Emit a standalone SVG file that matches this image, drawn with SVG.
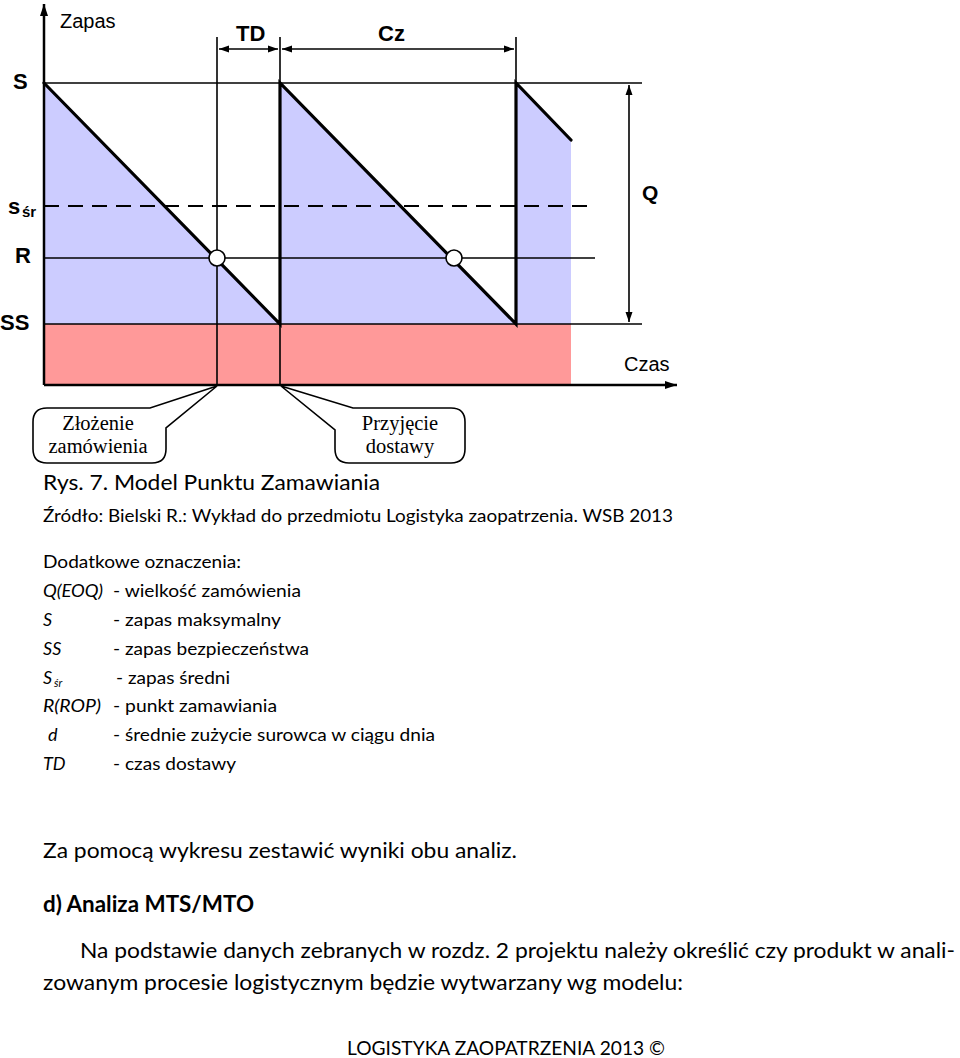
<svg xmlns="http://www.w3.org/2000/svg" width="960" height="1058" viewBox="0 0 960 1058">
<style>
.ax{stroke:#000;stroke-width:2.5;fill:none}
.thin{stroke:#000;stroke-width:1.6;fill:none}
.thick{stroke:#000;stroke-width:3.2;fill:none;stroke-linecap:round}
.lbl{font-family:"Liberation Sans",Arial,sans-serif;fill:#000}
.b{font-weight:bold}
.tm{font-family:"Liberation Serif","Times New Roman",serif;font-size:20.5px;fill:#000;text-anchor:middle}
.tx{font-family:Lato,"Noto Sans",sans-serif;fill:#000}
.it{font-style:italic}
.call{fill:#fff;stroke:#000;stroke-width:1.6}
</style>
<defs>
<marker id="ar" viewBox="0 0 10 10" refX="10" refY="5" markerWidth="10" markerHeight="10" markerUnits="userSpaceOnUse" orient="auto-start-reverse">
<path d="M0,1.5 L10,5 L0,8.5 Z" fill="#000"/>
</marker>
<marker id="axar" viewBox="0 0 12 10" refX="12" refY="5" markerWidth="12" markerHeight="10" markerUnits="userSpaceOnUse" orient="auto">
<path d="M0,1 L12,5 L0,9 Z" fill="#000"/>
</marker>
</defs>

<g id="areas">
<rect x="44" y="324" width="527" height="61" fill="#FF9999"/>
<polygon points="44,83 280,324 44,324" fill="#CCCCFF"/>
<polygon points="280,83 516,324 280,324" fill="#CCCCFF"/>
<polygon points="516,83 571,140 571,324 516,324" fill="#CCCCFF"/>
</g>

<g id="connectors">
<line class="thin" x1="44" y1="83" x2="642" y2="83"/>
<line class="thin" x1="44" y1="324" x2="642" y2="324"/>
<line class="thin" x1="44" y1="258" x2="595" y2="258"/>
<line x1="44" y1="206" x2="595" y2="206" stroke="#000" stroke-width="2" stroke-dasharray="15 9"/>
<line class="thin" x1="217" y1="37" x2="217" y2="385"/>
<line class="thin" x1="280" y1="37" x2="280" y2="385"/>
<line class="thin" x1="516" y1="37" x2="516" y2="324"/>
<line class="thin" x1="219" y1="49" x2="278" y2="49" marker-start="url(#ar)" marker-end="url(#ar)"/>
<line class="thin" x1="282" y1="49" x2="514" y2="49" marker-start="url(#ar)" marker-end="url(#ar)"/>
<line class="thin" x1="629" y1="85" x2="629" y2="322" marker-start="url(#ar)" marker-end="url(#ar)"/>
<polyline class="thick" points="44,83 280,324 280,83 516,324 516,83 571,140"/>
<line class="ax" x1="44" y1="385" x2="44" y2="4" marker-end="url(#axar)"/>
<line class="ax" x1="44" y1="385" x2="677" y2="385" marker-end="url(#axar)"/>
<circle cx="217" cy="258" r="8" fill="#fff" stroke="#000" stroke-width="1.6"/>
<circle cx="454" cy="258" r="8" fill="#fff" stroke="#000" stroke-width="1.6"/>
</g>

<g id="axis-labels">
<text class="lbl" x="60" y="28" font-size="20">Zapas</text>
<text class="lbl b" x="236" y="41" font-size="22">TD</text>
<text class="lbl b" x="378" y="41" font-size="22">Cz</text>
<text class="lbl b" x="13" y="89" font-size="22">S</text>
<text class="lbl b" x="8" y="214" font-size="22">s</text>
<text class="lbl b" x="22" y="217" font-size="15">śr</text>
<text class="lbl b" x="15" y="263" font-size="22">R</text>
<text class="lbl b" x="0" y="330" font-size="22">SS</text>
<text class="lbl b" x="642" y="200" font-size="21">Q</text>
<text class="lbl" x="624" y="371" font-size="20">Czas</text>
</g>

<g id="callout-zlozenie">
<path class="call" d="M47,408 L150,408 L217,386 L166,428 L166,449 Q166,463 152,463 L47,463 Q33,463 33,449 L33,422 Q33,408 47,408 Z"/>
<text class="tm" x="98" y="430">Złożenie</text>
<text class="tm" x="98" y="453">zamówienia</text>
</g>

<g id="callout-przyjecie">
<path class="call" d="M353,408 L451,408 Q465,408 465,422 L465,449 Q465,463 451,463 L349,463 Q335,463 335,449 L335,430 L281,386 Z"/>
<text class="tm" x="400" y="430">Przyjęcie</text>
<text class="tm" x="400" y="453">dostawy</text>
</g>

<g id="text-block">
<text class="tx" x="43" y="490" font-size="21" textLength="337" lengthAdjust="spacingAndGlyphs">Rys. 7. Model Punktu Zamawiania</text>
<text class="tx" x="43" y="522" font-size="18" textLength="630" lengthAdjust="spacingAndGlyphs">Źródło:  Bielski R.: Wykład do przedmiotu Logistyka zaopatrzenia. WSB 2013</text>
<text class="tx" x="43" y="568" font-size="18" textLength="198" lengthAdjust="spacingAndGlyphs">Dodatkowe oznaczenia:</text>
<text class="tx it" x="43" y="597" font-size="18" textLength="60" lengthAdjust="spacingAndGlyphs">Q(EOQ)</text>
<text class="tx" x="113" y="597" font-size="18" textLength="188" lengthAdjust="spacingAndGlyphs">- wielkość zamówienia</text>
<text class="tx it" x="43" y="626" font-size="18">S</text>
<text class="tx" x="113" y="626" font-size="18" textLength="168" lengthAdjust="spacingAndGlyphs">- zapas maksymalny</text>
<text class="tx it" x="43" y="655" font-size="18">SS</text>
<text class="tx" x="113" y="655" font-size="18" textLength="196" lengthAdjust="spacingAndGlyphs">- zapas bezpieczeństwa</text>
<text class="tx it" x="43" y="684" font-size="18">S</text>
<text class="tx it" x="54" y="687" font-size="11">śr</text>
<text class="tx" x="116" y="684" font-size="18" textLength="114" lengthAdjust="spacingAndGlyphs">- zapas średni</text>
<text class="tx it" x="43" y="712" font-size="18" textLength="58" lengthAdjust="spacingAndGlyphs">R(ROP)</text>
<text class="tx" x="113" y="712" font-size="18" textLength="164" lengthAdjust="spacingAndGlyphs">- punkt zamawiania</text>
<text class="tx it" x="48" y="741" font-size="18">d</text>
<text class="tx" x="113" y="741" font-size="18" textLength="322" lengthAdjust="spacingAndGlyphs">- średnie zużycie surowca w ciągu dnia</text>
<text class="tx it" x="43" y="770" font-size="18">TD</text>
<text class="tx" x="113" y="770" font-size="18" textLength="123" lengthAdjust="spacingAndGlyphs">- czas dostawy</text>
<text class="tx" x="43" y="858" font-size="22" textLength="474" lengthAdjust="spacingAndGlyphs">Za pomocą wykresu zestawić wyniki obu analiz.</text>
<text class="tx" x="43" y="912" font-size="22" font-weight="bold" textLength="211" lengthAdjust="spacingAndGlyphs">d) Analiza MTS/MTO</text>
<text class="tx" x="80" y="958" font-size="22" textLength="875" lengthAdjust="spacingAndGlyphs">Na podstawie danych zebranych w rozdz. 2 projektu należy określić czy produkt w anali-</text>
<text class="tx" x="43" y="990" font-size="22" textLength="640" lengthAdjust="spacingAndGlyphs">zowanym procesie logistycznym będzie wytwarzany wg modelu:</text>
<text class="tx" x="347" y="1055" font-size="20" textLength="318" lengthAdjust="spacingAndGlyphs">LOGISTYKA ZAOPATRZENIA 2013 ©</text>
</g>
</svg>
